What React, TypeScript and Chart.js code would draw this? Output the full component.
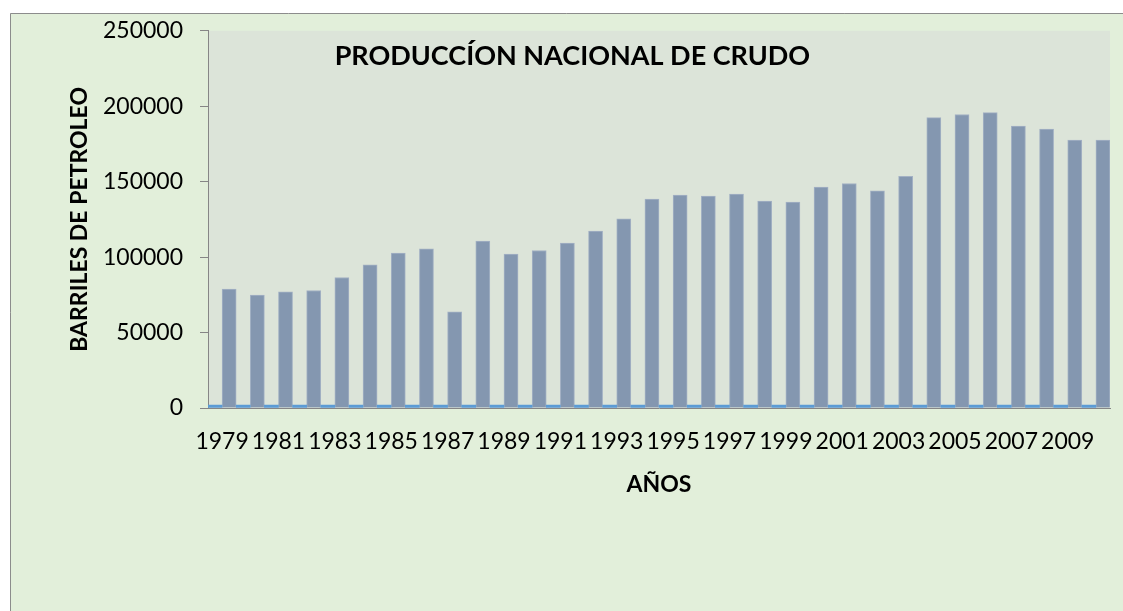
import React, { useEffect, useRef } from "react";
import { Chart, registerables } from "chart.js";

Chart.register(...registerables);

const years: string[] = [
  "1979", "1980", "1981", "1982", "1983", "1984", "1985", "1986", "1987", "1988",
  "1989", "1990", "1991", "1992", "1993", "1994", "1995", "1996", "1997", "1998",
  "1999", "2000", "2001", "2002", "2003", "2004", "2005", "2006", "2007", "2008",
  "2009", "2010",
];

// Series 1 (blue): the year column plotted as values
const yearSeries: number[] = [
  1979, 1980, 1981, 1982, 1983, 1984, 1985, 1986, 1987, 1988,
  1989, 1990, 1991, 1992, 1993, 1994, 1995, 1996, 1997, 1998,
  1999, 2000, 2001, 2002, 2003, 2004, 2005, 2006, 2007, 2008,
  2009, 2010,
];

// Series 2 (grey-blue): production
const production: number[] = [
  78800, 74800, 77000, 77900, 86500, 94900, 102600, 105500, 63800, 110600,
  102000, 104400, 109300, 117200, 125400, 138400, 141100, 140400, 141700, 137100,
  136400, 146400, 148800, 143900, 153600, 192500, 194500, 195800, 186800, 184800,
  177500, 177500,
];

const yTicks: number[] = [0, 50000, 100000, 150000, 200000, 250000];

const TITLE = "PRODUCCÍON NACIONAL DE CRUDO";
const Y_TITLE = "BARRILES DE PETROLEO";
const X_TITLE = "AÑOS";

const FONT = "Lato, 'Open Sans', sans-serif";

export default function App() {
  const ref = useRef<HTMLCanvasElement | null>(null);

  useEffect(() => {
    if (!ref.current) return;

    const bgPlugin = {
      id: "bgPlugin",
      beforeDraw(chart: any) {
        const { ctx, chartArea } = chart;
        ctx.save();
        ctx.fillStyle = "#ffffff";
        ctx.fillRect(0, 0, chart.width, chart.height);
        ctx.fillStyle = "#e2efda";
        ctx.fillRect(10, 13, chart.width - 10, chart.height - 13);
        ctx.strokeStyle = "#8c8c8c";
        ctx.lineWidth = 1;
        ctx.beginPath();
        ctx.moveTo(10.5, chart.height);
        ctx.lineTo(10.5, 13.5);
        ctx.lineTo(chart.width, 13.5);
        ctx.stroke();
        ctx.fillStyle = "#dce4d9";
        ctx.fillRect(
          chartArea.left,
          chartArea.top,
          chartArea.right - chartArea.left,
          chartArea.bottom - chartArea.top
        );
        ctx.restore();
      },
    };

    const titlePlugin = {
      id: "titlePlugin",
      afterDraw(chart: any) {
        const { ctx, chartArea } = chart;
        ctx.save();
        ctx.font = `bold 27px ${FONT}`;
        ctx.fillStyle = "#000000";
        ctx.textAlign = "center";
        ctx.textBaseline = "middle";
        const x = chartArea.left + 0.404 * (chartArea.right - chartArea.left);
        ctx.fillText(TITLE, x, chartArea.top + 25);
        ctx.restore();
      },
    };

    const chart = new Chart(ref.current, {
      type: "bar",
      data: {
        labels: years,
        datasets: [
          {
            label: "Año",
            data: yearSeries,
            backgroundColor: "#5b9bd5",
            borderWidth: 0,
            categoryPercentage: 1,
            barPercentage: 1,
          },
          {
            label: "Producción",
            data: production,
            backgroundColor: "#8497b0",
            borderColor: "#a3b1c4",
            borderWidth: 1,
            categoryPercentage: 1,
            barPercentage: 1,
          },
        ],
      },
      options: {
        responsive: false,
        animation: false,
        layout: { padding: { left: 66, top: 30, right: 13, bottom: 113 } },
        plugins: {
          legend: { display: false },
          tooltip: { enabled: false },
          title: { display: false },
        },
        scales: {
          x: {
            grid: { drawOnChartArea: false, drawTicks: false, color: "#868686" },
            border: { display: true, color: "#868686", width: 1 },
            ticks: {
              autoSkip: false,
              maxRotation: 0,
              minRotation: 0,
              padding: 20,
              color: "#000000",
              font: { family: FONT, size: 23 },
              callback: (_v: any, i: number) => (i % 2 === 0 ? years[i] : ""),
            },
            title: {
              display: true,
              text: X_TITLE,
              color: "#000000",
              font: { family: FONT, size: 23, weight: "bold" },
              padding: 0,
            },
            afterFit: (scale: any) => {
              scale.height = 90;
            },
          },
          y: {
            min: 0,
            max: 250000,
            afterBuildTicks: (scale: any) => {
              scale.ticks = yTicks.map((v) => ({ value: v }));
            },
            grid: {
              drawOnChartArea: false,
              drawTicks: true,
              tickLength: 8,
              color: "#868686",
            },
            border: { display: true, color: "#868686", width: 1 },
            ticks: {
              padding: 17,
              color: "#000000",
              font: { family: FONT, size: 23 },
              callback: (v: any) => String(v),
            },
            title: {
              display: true,
              text: Y_TITLE,
              color: "#000000",
              font: { family: FONT, size: 23, weight: "bold" },
              padding: 0,
            },
            afterFit: (scale: any) => {
              scale.width = 142;
            },
          },
        },
      },
      plugins: [bgPlugin, titlePlugin],
    });

    return () => chart.destroy();
  }, []);

  return (
    <div style={{ position: "fixed", left: 0, top: 0, width: 1123, height: 611 }}>
      <canvas ref={ref} width={1123} height={611} />
    </div>
  );
}
